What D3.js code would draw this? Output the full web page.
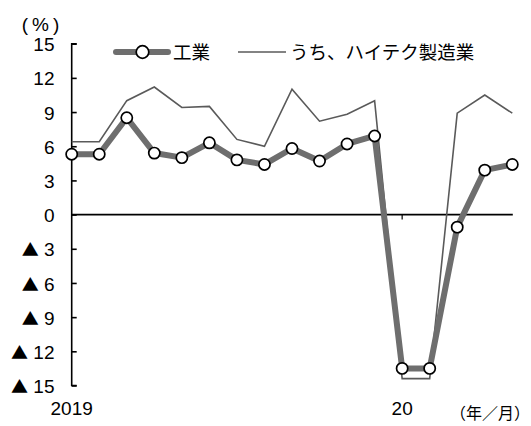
<!DOCTYPE html>
<html>
<head>
<meta charset="utf-8">
<script src="https://cdn.jsdelivr.net/npm/d3@7"></script>
<style>
  html, body { margin: 0; padding: 0; background: #fff; }
  svg { display: block; }
  text { font-family: "Liberation Sans Narrow", "Liberation Sans", "Noto Sans CJK JP", sans-serif; fill: #000; }
  .cjk { font-family: "Noto Sans CJK JP", sans-serif; }
</style>
</head>
<body>
<svg id="chart" width="531" height="426"></svg>
<script>
// Monthly y/y growth (%), Jan 2019 – May 2020 (Jan–Feb reported together)
const months = ["2019-01","2019-02","2019-03","2019-04","2019-05","2019-06","2019-07","2019-08",
                "2019-09","2019-10","2019-11","2019-12","2020-01","2020-02","2020-03","2020-04","2020-05"];
const industry = [5.3, 5.3, 8.5, 5.4, 5.0, 6.3, 4.8, 4.4, 5.8, 4.7, 6.2, 6.9, -13.5, -13.5, -1.1, 3.9, 4.4];
const hiTech   = [6.4, 6.4, 10.0, 11.2, 9.4, 9.5, 6.6, 6.0, 11.0, 8.2, 8.8, 10.0, -14.4, -14.4, 8.9, 10.5, 8.9];
const yTicks = [15, 12, 9, 6, 3, 0, -3, -6, -9, -12, -15];
const xLabels = [{ i: 0, text: "2019" }, { i: 12, text: "20" }];
const seriesNames = ["工業", "うち、ハイテク製造業"];

const svg = d3.select("#chart");

const x = d3.scaleLinear().domain([0, months.length - 1]).range([71.7, 512.3]);
const y = d3.scaleLinear().domain([-15, 15]).range([385.5, 43.7]);

const axisX = x(0);

// Left axis with inward ticks
const yAxis = d3.axisRight(y).tickValues(yTicks).tickSize(5).tickFormat("");
const gy = svg.append("g").attr("transform", `translate(${axisX},0)`).call(yAxis);
gy.select(".domain").attr("stroke", "#000").attr("stroke-width", 1.6).attr("d", `M5,${y(15)}H0V${y(-15)}H5`);
gy.selectAll(".tick line").attr("stroke", "#000").attr("stroke-width", 1.6);

// Tick labels, negatives marked with ▲
const yl = svg.append("g").selectAll("text").data(yTicks).join("text")
  .attr("x", 54.5)
  .attr("y", d => y(d))
  .attr("dy", "0.4em")
  .attr("text-anchor", "end")
  .style("font-size", "19px");
yl.filter(d => d < 0).append("tspan")
  .attr("class", "cjk").style("font-size", "17px").text("▲");
yl.append("tspan").text(d => d < 0 ? " " + Math.abs(d) : String(d));

// Zero line
svg.append("line")
  .attr("x1", axisX).attr("x2", x(months.length - 1) + 0.5)
  .attr("y1", y(0)).attr("y2", y(0))
  .attr("stroke", "#000").attr("stroke-width", 1.6);

// Year tick on the zero line
svg.append("line")
  .attr("x1", x(12)).attr("x2", x(12))
  .attr("y1", y(0)).attr("y2", y(0) + 5)
  .attr("stroke", "#000").attr("stroke-width", 1.2);

// Year labels
svg.append("g").selectAll("text").data(xLabels).join("text")
  .attr("x", d => x(d.i))
  .attr("y", 414.5)
  .attr("text-anchor", "middle")
  .style("font-size", "19px")
  .text(d => d.text);

// Unit labels
svg.append("text").attr("x", 42.5).attr("y", 30.5)
  .attr("text-anchor", "middle").style("font-size", "19px").style("letter-spacing", "4px")
  .text("(%)");
svg.append("text").attr("class", "cjk").attr("x", 530).attr("y", 419)
  .attr("text-anchor", "end").style("font-size", "16px").text("（年／月）");

const line = d3.line().x((d, i) => x(i)).y(d => y(d));

// High-tech manufacturing: thin line
svg.append("path").datum(hiTech)
  .attr("d", line)
  .attr("fill", "none").attr("stroke", "#5a5a5a").attr("stroke-width", 1.6)
  .attr("stroke-linejoin", "miter");

// Industry: thick line with open markers
svg.append("path").datum(industry)
  .attr("d", line)
  .attr("fill", "none").attr("stroke", "#6e6e6e").attr("stroke-width", 6)
  .attr("stroke-linejoin", "round");

svg.append("g").selectAll("circle").data(industry).join("circle")
  .attr("cx", (d, i) => x(i)).attr("cy", d => y(d))
  .attr("r", 5.6)
  .attr("fill", "#fff").attr("stroke", "#000").attr("stroke-width", 1.7);

// Legend
const lg = svg.append("g");
lg.append("line").attr("x1", 116).attr("x2", 168).attr("y1", 52).attr("y2", 52)
  .attr("stroke", "#6e6e6e").attr("stroke-width", 6).attr("stroke-linecap", "round");
lg.append("circle").attr("cx", 142.5).attr("cy", 52).attr("r", 6.3)
  .attr("fill", "#fff").attr("stroke", "#000").attr("stroke-width", 1.7);
lg.append("text").attr("class", "cjk").attr("x", 173).attr("y", 52).attr("dy", "0.36em")
  .style("font-size", "18.5px").text(seriesNames[0]);
lg.append("line").attr("x1", 238).attr("x2", 286).attr("y1", 52).attr("y2", 52)
  .attr("stroke", "#5a5a5a").attr("stroke-width", 1.6);
lg.append("text").attr("class", "cjk").attr("x", 290).attr("y", 52).attr("dy", "0.36em")
  .style("font-size", "18.5px").text(seriesNames[1]);
</script>
</body>
</html>
